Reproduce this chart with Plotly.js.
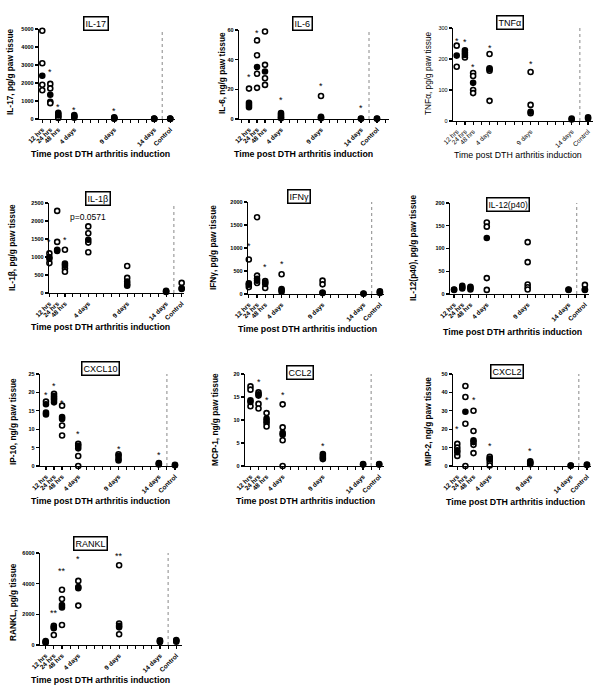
<!DOCTYPE html>
<html><head><meta charset="utf-8">
<script src="https://cdn.plot.ly/plotly-3.0.1.min.js"></script>
<style>body{margin:0;background:#fff}#chart{width:600px;height:688px}</style>
</head><body><div id="chart"></div>
<script>
// ---------- DATA ----------
const timeLabels = ['12 hrs','24 hrs','48 hrs','4 days','9 days','14 days','Control'];
const timePos = [0,1,2,4,9,14,16];
const il1bTimePos = [-1,0,1,4,9,14,16];   // IL-1β panel plots the early time points one day earlier

const il17Open   = [[4900,3100,1900,1600],[1950,1700,950,880],[120,60],[],[],[],[]];
const il17Filled = [[2400],[1350],[350,280,200],[220,170,120,70],[90,60,30,15],[20,10,5],[25,12,5]];
const il17Stars  = ['*','*','*','*','*','',''];
const il17StarY  = [5500,2800,850,650,600,0,0];

const il6Open   = [[20.5],[53,43,30.5,21],[59,36.5,27.5,23],[],[15.5],[],[]];
const il6Filled = [[11,9.5,8],[35],[32],[4,3,2,1,0.5],[1.5,1,0.5],[0.3,0.1],[0.3,0.1]];
const il6Stars  = ['*','*','*','*','*','*',''];
const il6StarY  = [30,60,66.7,14.6,24.5,9.2,0];

const tnfOpen   = [[243,175],[220,205],[155,145,100,90],[216,170,162,65],[158,52,25],[],[]];
const tnfFilled = [[211],[228,213],[123],[167],[30],[8,5],[12,8]];
const tnfStars  = ['*','*','*','*','*','',''];
const tnfStarY  = [269,263,185,244,195,0,0];

const il1bOpen   = [[1100,830],[2280,1420],[1200,680,590],[1850,1660,1400,1130],[750,420],[],[280]];
const il1bFilled = [[1000,950],[1200,1170],[820,760],[1480],[320,250,200],[60,40,30],[130,110]];
const il1bStars  = ['*','*','*','p=0.0571','','',''];
const il1bStarY  = [1500,2600,1560,2100,0,0,0];

const ifngOpen   = [[750,150],[1670,400,240],[280,130],[430],[290,210],[],[]];
const ifngFilled = [[230,200],[330,290],[250,220],[110,80,50],[30,20],[10,5],[60,40,20]];
const ifngStars  = ['*','*','*','*','','',''];
const ifngStarY  = [1100,2014,647,727,0,0,0];

const il12Open   = [[],[],[],[157,148,35,9],[114,70,21,15,10],[],[20]];
const il12Filled = [[10,9],[18,15,12],[16,13,10],[123],[],[10,9],[10,9]];
const il12Stars  = ['','','','','','',''];
const il12StarY  = [0,0,0,0,0,0,0];

const cxcl10Open   = [[17.5],[19.6,18],[16.4,11,8.3],[6,2.7,0],[3.2],[],[]];
const cxcl10Filled = [[16.8,14.5,14],[19,18.5,17.3],[13.3,12.8],[5.5,4.8],[2.8,2,1.5],[0.8,0.6,0.4],[0.3,0.2]];
const cxcl10Stars  = ['*','*','*','*','*','*',''];
const cxcl10StarY  = [20,22.5,18,9.6,5.5,3.7,0];

const ccl2Open   = [[17.3,16.6,13],[16,13.5,12.5],[11.5,9.3,8.6],[13.4,8.4,5.6,0],[1.5],[],[]];
const ccl2Filled = [[14.3,13.9],[15.6,15.3],[10.3,9.8],[7.2,6.8],[2.6,2.2,1.8],[0.4,0.3],[0.4,0.3]];
const ccl2Stars  = ['*','*','*','*','*','',''];
const ccl2StarY  = [20.6,18.9,14.9,16,5.1,0,0];

const cxcl2Open   = [[12,10,5.5],[43.5,37.5,23,0],[30,19,11.5,7],[5,2,0.3],[],[],[]];
const cxcl2Filled = [[8.5,7.5],[29.5],[14,13],[4,3.5],[2.5,2,1.5,1],[0.3,0.2],[0.8,0.5]];
const cxcl2Stars  = ['*','*','*','*','*','',''];
const cxcl2StarY  = [22,51.3,37.7,12.3,9.7,0,0];

const ranklOpen   = [[],[1250,650],[3600,3000,1300],[4180,2570],[5200,1400,700],[],[]];
const ranklFilled = [[250,200,150],[1150,1100],[2600,2450],[3780,3700],[1250,1150],[300,250,200],[320,280,220]];
const ranklStars  = ['','**','**','*','**','',''];
const ranklStarY  = [0,2274,5046,5783,6000,0,0];

// ---------- PANELS (layout / style) ----------
const panels = [
 {label:'IL-17', yTitle:'IL-17, pg/g paw tissue', open:il17Open, filled:il17Filled, stars:il17Stars, starY:il17StarY, ymax:5000, dtick:1000,
  px:[39,175], py:[29,119], xr:[-0.41,16.6], lab:[96,24], lfs:9, yt:[10,72], xt:[100,154], bold:true},
 {label:'IL-6', yTitle:'IL-6, ng/g paw tissue', open:il6Open, filled:il6Filled, stars:il6Stars, starY:il6StarY, ymax:60, dtick:20,
  px:[239,389], py:[30,119], xr:[-1.25,17.5], lab:[302,24], lfs:9, yt:[222,73], xt:[303,154], bold:true},
 {label:'TNFα', yTitle:'TNFα, pg/g paw tissue', open:tnfOpen, filled:tnfFilled, stars:tnfStars, starY:tnfStarY, ymax:300, dtick:100,
  px:[453,593], py:[28,121], xr:[-0.45,16.6], lab:[510,23], lfs:9, yt:[428,73], xt:[518,155], bold:false},
 {label:'IL-1β', yTitle:'IL-1β, pg/g paw tissue', open:il1bOpen, filled:il1bFilled, stars:il1bStars, starY:il1bStarY, ymax:2500, dtick:500,
  px:[49,184], py:[203,293], xr:[-1.05,16.3], lab:[98,199], lfs:9, yt:[12,248], xt:[100,327], bold:true, pos:il1bTimePos},
 {label:'IFNγ', yTitle:'IFNγ, pg/g paw tissue', open:ifngOpen, filled:ifngFilled, stars:ifngStars, starY:ifngStarY, ymax:2000, dtick:500,
  px:[248,384], py:[202,294], xr:[-0.1,16.5], lab:[299,197], lfs:9, yt:[213,248], xt:[307,329], bold:true},
 {label:'IL-12(p40)', yTitle:'IL-12(p40), pg/g paw tissue', open:il12Open, filled:il12Filled, stars:il12Stars, starY:il12StarY, ymax:200, dtick:50,
  px:[450,589], py:[203,294], xr:[-0.5,16.5], lab:[508,204], lfs:8.5, yt:[413,248], xt:[512,332], bold:true},
 {label:'CXCL10', yTitle:'IP-10, ng/g paw tissue', open:cxcl10Open, filled:cxcl10Filled, stars:cxcl10Stars, starY:cxcl10StarY, ymax:25, dtick:5,
  px:[40,177], py:[374,466], xr:[-0.74,16.25], lab:[100,369], lfs:9, yt:[13,422], xt:[100,501], bold:true},
 {label:'CCL2', yTitle:'MCP-1, ng/g paw tissue', open:ccl2Open, filled:ccl2Filled, stars:ccl2Stars, starY:ccl2StarY, ymax:20, dtick:5,
  px:[245,384], py:[374,466], xr:[-0.68,16.6], lab:[300,372], lfs:9, yt:[215,420], xt:[305,501], bold:true},
 {label:'CXCL2', yTitle:'MIP-2, ng/g paw tissue', open:cxcl2Open, filled:cxcl2Filled, stars:cxcl2Stars, starY:cxcl2StarY, ymax:50, dtick:10,
  px:[453,591], py:[374,466], xr:[-0.53,16.5], lab:[507,371], lfs:9, yt:[428,422], xt:[515,502], bold:true},
 {label:'RANKL', yTitle:'RANKL, pg/g tissue', open:ranklOpen, filled:ranklFilled, stars:ranklStars, starY:ranklStarY, ymax:6000, dtick:2000,
  px:[40,182], py:[553,645], xr:[-0.69,16.7], lab:[90,543], lfs:9, yt:[13,602], xt:[100,680], bold:true}
];

const W = 600, H = 688;
const FONT = 'Liberation Sans, Arial, sans-serif';
const data = [], annotations = [], shapes = [];
const layout = {width:W, height:H, margin:{l:0,r:0,t:0,b:0}, showlegend:false,
  paper_bgcolor:'#fff', plot_bgcolor:'rgba(0,0,0,0)', font:{family:FONT, color:'#000'}};

function flatten(groups, pos){
  const xs=[], ys=[];
  groups.forEach((g,i)=>g.forEach(v=>{xs.push(pos[i]); ys.push(v);}));
  return {xs, ys};
}

panels.forEach((p, k) => {
  const n = k + 1, sx = n===1?'':n;
  const xa = 'x'+sx, ya = 'y'+sx;
  const w = p.bold ? 'bold' : 'normal';
  const pos = p.pos || timePos;
  const o = flatten(p.open, pos), f = flatten(p.filled, pos);
  data.push({type:'scatter', mode:'markers', x:o.xs, y:o.ys, xaxis:xa, yaxis:ya, cliponaxis:false,
    marker:{symbol:'circle', size:5, color:'#fff', line:{color:'#000', width:1.6}}, hoverinfo:'skip'});
  data.push({type:'scatter', mode:'markers', x:f.xs, y:f.ys, xaxis:xa, yaxis:ya, cliponaxis:false,
    marker:{symbol:'circle', size:5, color:'#000', line:{color:'#000', width:1.6}}, hoverinfo:'skip'});

  layout['xaxis'+sx] = {domain:[p.px[0]/W, p.px[1]/W], anchor:ya, range:p.xr, showgrid:false, zeroline:false,
    showline:true, linecolor:'#000', linewidth:1.3, ticks:'outside', ticklen:3, tickwidth:1.2, tickcolor:'#000',
    tickmode:'array', tickvals:pos, ticktext:timeLabels, tickangle:-45,
    tickfont:{size:6.5, family:FONT, weight:w}, fixedrange:true,
    minor:{tickmode:'linear', tick0:0, dtick:1, ticks:'outside', ticklen:2.5, tickwidth:1, tickcolor:'#000'}};
  layout['yaxis'+sx] = {domain:[1-p.py[1]/H, 1-p.py[0]/H], anchor:xa, range:[0,p.ymax], showgrid:false, zeroline:false,
    showline:true, linecolor:'#000', linewidth:1.3, ticks:'outside', ticklen:3, tickwidth:1.2, tickcolor:'#000',
    dtick:p.dtick, tick0:0, tickfont:{size:5.5, family:FONT, weight:w}, fixedrange:true};

  // dotted separator before Control
  shapes.push({type:'line', xref:xa, yref:ya, x0:15, x1:15, y0:0, y1:p.ymax,
    line:{color:'#888', width:1, dash:'dot'}});

  // panel label box
  annotations.push({xref:'paper', yref:'paper', x:p.lab[0]/W, y:1-p.lab[1]/H, text:p.label, showarrow:false,
    font:{size:p.lfs, family:FONT}, bordercolor:'#000', borderwidth:1.5, borderpad:1, bgcolor:'#fff',
    xanchor:'center', yanchor:'middle'});
  // axis titles
  annotations.push({xref:'paper', yref:'paper', x:p.yt[0]/W, y:1-p.yt[1]/H, text:p.yTitle, showarrow:false, textangle:-90,
    font:{size:8.3, family:FONT, weight:w}, xanchor:'center', yanchor:'middle'});
  annotations.push({xref:'paper', yref:'paper', x:p.xt[0]/W, y:1-p.xt[1]/H, text:'Time post DTH arthritis induction', showarrow:false,
    font:{size:8.8, family:FONT, weight:w}, xanchor:'center', yanchor:'middle'});
  // significance marks
  p.stars.forEach((s,i)=>{
    if(!s) return;
    const isP = s.startsWith('p=');
    annotations.push({xref:xa, yref:ya, x:pos[i], y:p.starY[i], text:s, showarrow:false,
      font:{size:isP?8.5:9, family:FONT}, xanchor:'center', yanchor:'middle', yshift:isP?0:-3});
  });
});

layout.annotations = annotations;
layout.shapes = shapes;
Plotly.newPlot('chart', data, layout, {staticPlot:true, displayModeBar:false});
</script></body></html>
